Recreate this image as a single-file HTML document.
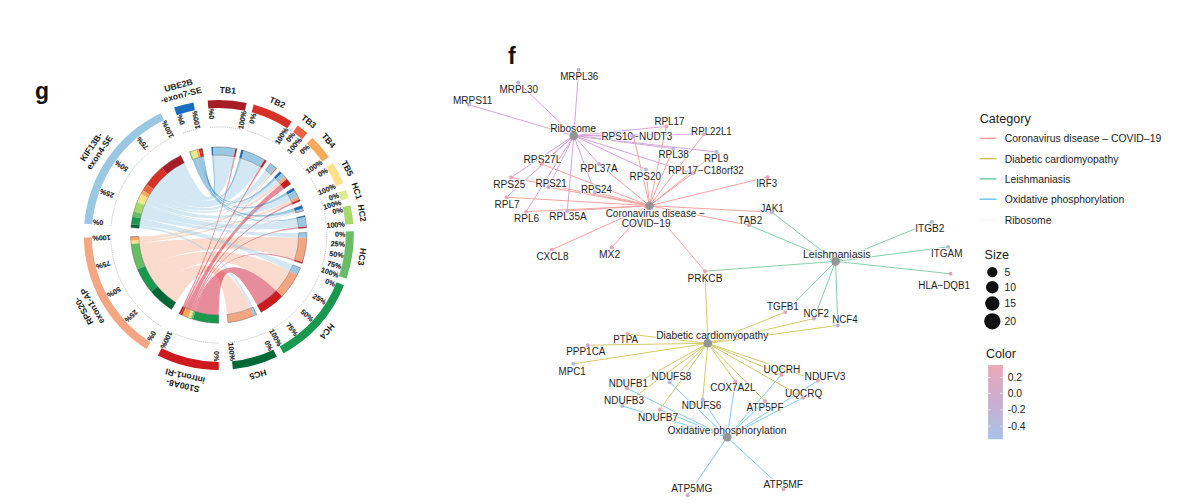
<!DOCTYPE html>
<html><head><meta charset="utf-8"><style>
html,body{margin:0;padding:0;background:#fff;}
svg{display:block;}
text{font-family:"Liberation Sans",sans-serif;}
.tk{font-size:7.2px;font-weight:bold;fill:#222;stroke:#222;stroke-width:0.12px;}
.sl{font-size:8.6px;font-weight:bold;fill:#1a1a1a;}
.nl{font-size:10px;fill:#1e1e1e;stroke:#fff;stroke-width:1.8px;paint-order:stroke;stroke-linejoin:round;}
.lt{font-size:12.6px;fill:#222;}
.ll{font-size:10.4px;fill:#222;}
.nl2{font-size:10px;fill:#222;stroke:#222;stroke-width:0.1px;}
.pl{font-size:23px;font-weight:bold;fill:#111;}
</style></head><body>
<svg width="1187" height="504" viewBox="0 0 1187 504">
<rect width="1187" height="504" fill="#fff"/>
<text x="35" y="98.8" class="pl">g</text>
<text x="508" y="63.5" class="pl">f</text>
<path d="M138.79,237.39A80.0,80.0 0 0 1 138.76,236.54Q218.75,235.0 270.33,173.85A80.0,80.0 0 0 1 270.94,174.36Q218.75,235.0 138.79,237.39Z" fill="#f4a582" fill-opacity="0.4"/>
<path d="M138.92,240.22A80.0,80.0 0 0 1 138.79,237.39Q218.75,235.0 278.68,182.00A80.0,80.0 0 0 1 280.58,184.23Q218.75,235.0 138.92,240.22Z" fill="#f4a582" fill-opacity="0.4"/>
<path d="M139.17,243.18A80.0,80.0 0 0 1 138.92,240.22Q218.75,235.0 290.69,200.01A80.0,80.0 0 0 1 291.94,202.70Q218.75,235.0 139.17,243.18Z" fill="#f4a582" fill-opacity="0.4"/>
<path d="M145.02,266.04A80.0,80.0 0 0 1 139.17,243.18Q218.75,235.0 298.71,237.49A80.0,80.0 0 0 1 294.86,259.63Q218.75,235.0 145.02,266.04Z" fill="#f4a582" fill-opacity="0.4"/>
<path d="M157.54,286.52A80.0,80.0 0 0 1 145.02,266.04Q218.75,235.0 290.06,271.26A80.0,80.0 0 0 1 276.18,290.70Q218.75,235.0 157.54,286.52Z" fill="#f4a582" fill-opacity="0.4"/>
<path d="M175.88,302.55A80.0,80.0 0 0 1 157.54,286.52Q218.75,235.0 250.39,308.48A80.0,80.0 0 0 1 227.11,314.56Q218.75,235.0 175.88,302.55Z" fill="#f4a582" fill-opacity="0.4"/>
<path d="M183.94,307.03A80.0,80.0 0 0 1 182.68,306.41Q218.75,235.0 233.89,156.44A80.0,80.0 0 0 1 235.25,156.72Q218.75,235.0 183.94,307.03Z" fill="#ca0020" fill-opacity="0.45"/>
<path d="M185.59,307.80A80.0,80.0 0 0 1 183.94,307.03Q218.75,235.0 260.40,166.70A80.0,80.0 0 0 1 261.97,167.68Q218.75,235.0 185.59,307.80Z" fill="#ca0020" fill-opacity="0.45"/>
<path d="M185.97,307.98A80.0,80.0 0 0 1 185.59,307.80Q218.75,235.0 270.94,174.36A80.0,80.0 0 0 1 271.23,174.62Q218.75,235.0 185.97,307.98Z" fill="#ca0020" fill-opacity="0.45"/>
<path d="M191.03,310.04A80.0,80.0 0 0 1 185.97,307.98Q218.75,235.0 280.58,184.23A80.0,80.0 0 0 1 284.04,188.77Q218.75,235.0 191.03,310.04Z" fill="#ca0020" fill-opacity="0.45"/>
<path d="M192.61,310.61A80.0,80.0 0 0 1 191.03,310.04Q218.75,235.0 291.94,202.70A80.0,80.0 0 0 1 292.61,204.26Q218.75,235.0 192.61,310.61Z" fill="#ca0020" fill-opacity="0.45"/>
<path d="M192.88,310.70A80.0,80.0 0 0 1 192.61,310.61Q218.75,235.0 295.61,212.81A80.0,80.0 0 0 1 295.69,213.08Q218.75,235.0 192.88,310.70Z" fill="#ca0020" fill-opacity="0.45"/>
<path d="M193.94,311.06A80.0,80.0 0 0 1 192.88,310.70Q218.75,235.0 298.38,227.33A80.0,80.0 0 0 1 298.48,228.44Q218.75,235.0 193.94,311.06Z" fill="#ca0020" fill-opacity="0.45"/>
<path d="M195.28,311.48A80.0,80.0 0 0 1 193.94,311.06Q218.75,235.0 294.86,259.63A80.0,80.0 0 0 1 294.44,260.91Q218.75,235.0 195.28,311.48Z" fill="#ca0020" fill-opacity="0.45"/>
<path d="M218.75,315.00A80.0,80.0 0 0 1 195.28,311.48Q218.75,235.0 276.18,290.70A80.0,80.0 0 0 1 257.17,305.17Q218.75,235.0 218.75,315.00Z" fill="#ca0020" fill-opacity="0.45"/>
<path d="M167.06,173.94A80.0,80.0 0 0 1 184.31,162.79Q218.75,235.0 213.58,155.17A80.0,80.0 0 0 1 233.89,156.44Q218.75,235.0 167.06,173.94Z" fill="#92c5de" fill-opacity="0.4"/>
<path d="M153.30,189.00A80.0,80.0 0 0 1 167.06,173.94Q218.75,235.0 241.51,158.30A80.0,80.0 0 0 1 260.40,166.70Q218.75,235.0 153.30,189.00Z" fill="#92c5de" fill-opacity="0.4"/>
<path d="M149.81,194.41A80.0,80.0 0 0 1 153.30,189.00Q218.75,235.0 265.55,170.11A80.0,80.0 0 0 1 270.33,173.85Q218.75,235.0 149.81,194.41Z" fill="#92c5de" fill-opacity="0.4"/>
<path d="M147.90,197.84A80.0,80.0 0 0 1 149.81,194.41Q218.75,235.0 275.89,179.00A80.0,80.0 0 0 1 278.68,182.00Q218.75,235.0 147.90,197.84Z" fill="#92c5de" fill-opacity="0.4"/>
<path d="M145.25,203.41A80.0,80.0 0 0 1 147.90,197.84Q218.75,235.0 287.76,194.54A80.0,80.0 0 0 1 290.69,200.01Q218.75,235.0 145.25,203.41Z" fill="#92c5de" fill-opacity="0.4"/>
<path d="M144.50,205.22A80.0,80.0 0 0 1 145.25,203.41Q218.75,235.0 295.05,210.94A80.0,80.0 0 0 1 295.61,212.81Q218.75,235.0 144.50,205.22Z" fill="#92c5de" fill-opacity="0.4"/>
<path d="M141.67,213.57A80.0,80.0 0 0 1 144.50,205.22Q218.75,235.0 297.06,218.64A80.0,80.0 0 0 1 298.38,227.33Q218.75,235.0 141.67,213.57Z" fill="#92c5de" fill-opacity="0.4"/>
<path d="M140.51,218.33A80.0,80.0 0 0 1 141.67,213.57Q218.75,235.0 298.72,232.77A80.0,80.0 0 0 1 298.71,237.49Q218.75,235.0 140.51,218.33Z" fill="#92c5de" fill-opacity="0.4"/>
<path d="M139.35,225.24A80.0,80.0 0 0 1 140.51,218.33Q218.75,235.0 292.98,264.84A80.0,80.0 0 0 1 290.06,271.26Q218.75,235.0 139.35,225.24Z" fill="#92c5de" fill-opacity="0.4"/>
<path d="M139.03,228.31A80.0,80.0 0 0 1 139.35,225.24Q218.75,235.0 253.19,307.21A80.0,80.0 0 0 1 250.39,308.48Q218.75,235.0 139.03,228.31Z" fill="#92c5de" fill-opacity="0.4"/>
<path d="M202.44,156.68A80.0,80.0 0 0 1 203.76,156.42Q218.75,235.0 212.19,155.27A80.0,80.0 0 0 1 213.58,155.17Q218.75,235.0 202.44,156.68Z" fill="#0571b0" fill-opacity="0.4"/>
<path d="M200.46,157.12A80.0,80.0 0 0 1 202.44,156.68Q218.75,235.0 239.46,157.73A80.0,80.0 0 0 1 241.51,158.30Q218.75,235.0 200.46,157.12Z" fill="#0571b0" fill-opacity="0.4"/>
<path d="M198.37,157.64A80.0,80.0 0 0 1 200.46,157.12Q218.75,235.0 274.22,177.36A80.0,80.0 0 0 1 275.89,179.00Q218.75,235.0 198.37,157.64Z" fill="#0571b0" fill-opacity="0.4"/>
<path d="M196.03,158.29A80.0,80.0 0 0 1 198.37,157.64Q218.75,235.0 286.45,192.37A80.0,80.0 0 0 1 287.76,194.54Q218.75,235.0 196.03,158.29Z" fill="#0571b0" fill-opacity="0.4"/>
<path d="M193.46,159.10A80.0,80.0 0 0 1 196.03,158.29Q218.75,235.0 294.16,208.30A80.0,80.0 0 0 1 295.05,210.94Q218.75,235.0 193.46,159.10Z" fill="#0571b0" fill-opacity="0.4"/>
<path d="M192.31,159.50A80.0,80.0 0 0 1 193.46,159.10Q218.75,235.0 296.79,217.41A80.0,80.0 0 0 1 297.06,218.64Q218.75,235.0 192.31,159.50Z" fill="#0571b0" fill-opacity="0.4"/>
<path d="M200.76,148.65A88.2,88.2 0 0 1 202.22,148.36L203.76,156.42A80.0,80.0 0 0 0 202.44,156.68Z" fill="#a81c26"/>
<path d="M211.52,147.10A88.2,88.2 0 0 1 213.05,146.98L213.58,155.17A80.0,80.0 0 0 0 212.19,155.27Z" fill="#1a6dbd"/>
<path d="M161.76,167.68A88.2,88.2 0 0 1 180.78,155.39L184.31,162.79A80.0,80.0 0 0 0 167.06,173.94Z" fill="#a81c26"/>
<path d="M213.05,146.98A88.2,88.2 0 0 1 235.44,148.39L233.89,156.44A80.0,80.0 0 0 0 213.58,155.17Z" fill="#9ac8e2"/>
<path d="M180.37,314.41A88.2,88.2 0 0 1 178.98,313.73L182.68,306.41A80.0,80.0 0 0 0 183.94,307.03Z" fill="#a81c26"/>
<path d="M235.44,148.39A88.2,88.2 0 0 1 236.94,148.70L235.25,156.72A80.0,80.0 0 0 0 233.89,156.44Z" fill="#cc1a1f"/>
<path d="M198.59,149.14A88.2,88.2 0 0 1 200.76,148.65L202.44,156.68A80.0,80.0 0 0 0 200.46,157.12Z" fill="#d73027"/>
<path d="M241.58,149.81A88.2,88.2 0 0 1 243.84,150.44L241.51,158.30A80.0,80.0 0 0 0 239.46,157.73Z" fill="#1a6dbd"/>
<path d="M146.59,184.28A88.2,88.2 0 0 1 161.76,167.68L167.06,173.94A80.0,80.0 0 0 0 153.30,189.00Z" fill="#d73027"/>
<path d="M243.84,150.44A88.2,88.2 0 0 1 264.67,159.70L260.40,166.70A80.0,80.0 0 0 0 241.51,158.30Z" fill="#9ac8e2"/>
<path d="M182.19,315.26A88.2,88.2 0 0 1 180.37,314.41L183.94,307.03A80.0,80.0 0 0 0 185.59,307.80Z" fill="#d73027"/>
<path d="M264.67,159.70A88.2,88.2 0 0 1 266.40,160.78L261.97,167.68A80.0,80.0 0 0 0 260.40,166.70Z" fill="#cc1a1f"/>
<path d="M142.74,190.25A88.2,88.2 0 0 1 146.59,184.28L153.30,189.00A80.0,80.0 0 0 0 149.81,194.41Z" fill="#ef6240"/>
<path d="M270.34,163.46A88.2,88.2 0 0 1 275.62,167.58L270.33,173.85A80.0,80.0 0 0 0 265.55,170.11Z" fill="#9ac8e2"/>
<path d="M130.59,237.63A88.2,88.2 0 0 1 130.57,236.69L138.76,236.54A80.0,80.0 0 0 0 138.79,237.39Z" fill="#ef6240"/>
<path d="M275.62,167.58A88.2,88.2 0 0 1 276.28,168.15L270.94,174.36A80.0,80.0 0 0 0 270.33,173.85Z" fill="#f4a582"/>
<path d="M182.61,315.46A88.2,88.2 0 0 1 182.19,315.26L185.59,307.80A80.0,80.0 0 0 0 185.97,307.98Z" fill="#ef6240"/>
<path d="M276.28,168.15A88.2,88.2 0 0 1 276.61,168.43L271.23,174.62A80.0,80.0 0 0 0 270.94,174.36Z" fill="#cc1a1f"/>
<path d="M196.28,149.71A88.2,88.2 0 0 1 198.59,149.14L200.46,157.12A80.0,80.0 0 0 0 198.37,157.64Z" fill="#f7aa5a"/>
<path d="M279.91,171.45A88.2,88.2 0 0 1 281.74,173.27L275.89,179.00A80.0,80.0 0 0 0 274.22,177.36Z" fill="#1a6dbd"/>
<path d="M140.64,194.03A88.2,88.2 0 0 1 142.74,190.25L149.81,194.41A80.0,80.0 0 0 0 147.90,197.84Z" fill="#f7aa5a"/>
<path d="M281.74,173.27A88.2,88.2 0 0 1 284.82,176.57L278.68,182.00A80.0,80.0 0 0 0 275.89,179.00Z" fill="#9ac8e2"/>
<path d="M130.74,240.75A88.2,88.2 0 0 1 130.59,237.63L138.79,237.39A80.0,80.0 0 0 0 138.92,240.22Z" fill="#f7aa5a"/>
<path d="M284.82,176.57A88.2,88.2 0 0 1 286.92,179.03L280.58,184.23A80.0,80.0 0 0 0 278.68,182.00Z" fill="#f4a582"/>
<path d="M188.19,317.73A88.2,88.2 0 0 1 182.61,315.46L185.97,307.98A80.0,80.0 0 0 0 191.03,310.04Z" fill="#f7aa5a"/>
<path d="M286.92,179.03A88.2,88.2 0 0 1 290.73,184.03L284.04,188.77A80.0,80.0 0 0 0 280.58,184.23Z" fill="#cc1a1f"/>
<path d="M193.70,150.43A88.2,88.2 0 0 1 196.28,149.71L198.37,157.64A80.0,80.0 0 0 0 196.03,158.29Z" fill="#fee08b"/>
<path d="M293.38,188.00A88.2,88.2 0 0 1 294.84,190.39L287.76,194.54A80.0,80.0 0 0 0 286.45,192.37Z" fill="#1a6dbd"/>
<path d="M137.72,200.17A88.2,88.2 0 0 1 140.64,194.03L147.90,197.84A80.0,80.0 0 0 0 145.25,203.41Z" fill="#fee08b"/>
<path d="M294.84,190.39A88.2,88.2 0 0 1 298.07,196.43L290.69,200.01A80.0,80.0 0 0 0 287.76,194.54Z" fill="#9ac8e2"/>
<path d="M131.01,244.02A88.2,88.2 0 0 1 130.74,240.75L138.92,240.22A80.0,80.0 0 0 0 139.17,243.18Z" fill="#fee08b"/>
<path d="M298.07,196.43A88.2,88.2 0 0 1 299.44,199.39L291.94,202.70A80.0,80.0 0 0 0 290.69,200.01Z" fill="#f4a582"/>
<path d="M189.93,318.36A88.2,88.2 0 0 1 188.19,317.73L191.03,310.04A80.0,80.0 0 0 0 192.61,310.61Z" fill="#fee08b"/>
<path d="M299.44,199.39A88.2,88.2 0 0 1 300.18,201.11L292.61,204.26A80.0,80.0 0 0 0 291.94,202.70Z" fill="#cc1a1f"/>
<path d="M190.86,151.32A88.2,88.2 0 0 1 193.70,150.43L196.03,158.29A80.0,80.0 0 0 0 193.46,159.10Z" fill="#d9ef8b"/>
<path d="M301.89,205.56A88.2,88.2 0 0 1 302.87,208.48L295.05,210.94A80.0,80.0 0 0 0 294.16,208.30Z" fill="#1a6dbd"/>
<path d="M136.89,202.16A88.2,88.2 0 0 1 137.72,200.17L145.25,203.41A80.0,80.0 0 0 0 144.50,205.22Z" fill="#d9ef8b"/>
<path d="M302.87,208.48A88.2,88.2 0 0 1 303.49,210.54L295.61,212.81A80.0,80.0 0 0 0 295.05,210.94Z" fill="#9ac8e2"/>
<path d="M190.22,318.46A88.2,88.2 0 0 1 189.93,318.36L192.61,310.61A80.0,80.0 0 0 0 192.88,310.70Z" fill="#d9ef8b"/>
<path d="M303.49,210.54A88.2,88.2 0 0 1 303.58,210.84L295.69,213.08A80.0,80.0 0 0 0 295.61,212.81Z" fill="#cc1a1f"/>
<path d="M189.60,151.76A88.2,88.2 0 0 1 190.86,151.32L193.46,159.10A80.0,80.0 0 0 0 192.31,159.50Z" fill="#a6d96a"/>
<path d="M304.79,215.61A88.2,88.2 0 0 1 305.09,216.96L297.06,218.64A80.0,80.0 0 0 0 296.79,217.41Z" fill="#1a6dbd"/>
<path d="M133.77,211.38A88.2,88.2 0 0 1 136.89,202.16L144.50,205.22A80.0,80.0 0 0 0 141.67,213.57Z" fill="#a6d96a"/>
<path d="M305.09,216.96A88.2,88.2 0 0 1 306.54,226.55L298.38,227.33A80.0,80.0 0 0 0 297.06,218.64Z" fill="#9ac8e2"/>
<path d="M191.40,318.85A88.2,88.2 0 0 1 190.22,318.46L192.88,310.70A80.0,80.0 0 0 0 193.94,311.06Z" fill="#a6d96a"/>
<path d="M306.54,226.55A88.2,88.2 0 0 1 306.65,227.77L298.48,228.44A80.0,80.0 0 0 0 298.38,227.33Z" fill="#cc1a1f"/>
<path d="M132.49,216.63A88.2,88.2 0 0 1 133.77,211.38L141.67,213.57A80.0,80.0 0 0 0 140.51,218.33Z" fill="#66bd63"/>
<path d="M306.92,232.54A88.2,88.2 0 0 1 306.91,237.75L298.71,237.49A80.0,80.0 0 0 0 298.72,232.77Z" fill="#9ac8e2"/>
<path d="M137.46,269.22A88.2,88.2 0 0 1 131.01,244.02L139.17,243.18A80.0,80.0 0 0 0 145.02,266.04Z" fill="#66bd63"/>
<path d="M306.91,237.75A88.2,88.2 0 0 1 302.66,262.16L294.86,259.63A80.0,80.0 0 0 0 298.71,237.49Z" fill="#f4a582"/>
<path d="M192.87,319.32A88.2,88.2 0 0 1 191.40,318.85L193.94,311.06A80.0,80.0 0 0 0 195.28,311.48Z" fill="#66bd63"/>
<path d="M302.66,262.16A88.2,88.2 0 0 1 302.19,263.57L294.44,260.91A80.0,80.0 0 0 0 294.86,259.63Z" fill="#cc1a1f"/>
<path d="M131.21,224.24A88.2,88.2 0 0 1 132.49,216.63L140.51,218.33A80.0,80.0 0 0 0 139.35,225.24Z" fill="#1a9850"/>
<path d="M300.59,267.90A88.2,88.2 0 0 1 297.37,274.98L290.06,271.26A80.0,80.0 0 0 0 292.98,264.84Z" fill="#9ac8e2"/>
<path d="M151.27,291.80A88.2,88.2 0 0 1 137.46,269.22L145.02,266.04A80.0,80.0 0 0 0 157.54,286.52Z" fill="#1a9850"/>
<path d="M297.37,274.98A88.2,88.2 0 0 1 282.06,296.41L276.18,290.70A80.0,80.0 0 0 0 290.06,271.26Z" fill="#f4a582"/>
<path d="M218.75,323.20A88.2,88.2 0 0 1 192.87,319.32L195.28,311.48A80.0,80.0 0 0 0 218.75,315.00Z" fill="#1a9850"/>
<path d="M282.06,296.41A88.2,88.2 0 0 1 261.11,312.36L257.17,305.17A80.0,80.0 0 0 0 276.18,290.70Z" fill="#cc1a1f"/>
<path d="M130.86,227.62A88.2,88.2 0 0 1 131.21,224.24L139.35,225.24A80.0,80.0 0 0 0 139.03,228.31Z" fill="#006837"/>
<path d="M256.72,314.61A88.2,88.2 0 0 1 253.63,316.01L250.39,308.48A80.0,80.0 0 0 0 253.19,307.21Z" fill="#9ac8e2"/>
<path d="M171.49,309.47A88.2,88.2 0 0 1 151.27,291.80L157.54,286.52A80.0,80.0 0 0 0 175.88,302.55Z" fill="#006837"/>
<path d="M253.63,316.01A88.2,88.2 0 0 1 227.97,322.72L227.11,314.56A80.0,80.0 0 0 0 250.39,308.48Z" fill="#f4a582"/>
<path d="M189.60,151.76A88.2,88.2 0 0 1 202.22,148.36L203.76,156.42A80.0,80.0 0 0 0 192.31,159.50Z" fill="none" stroke="#555" stroke-width="0.5" stroke-opacity="0.8"/>
<path d="M211.52,147.10A88.2,88.2 0 0 1 236.94,148.70L235.25,156.72A80.0,80.0 0 0 0 212.19,155.27Z" fill="none" stroke="#555" stroke-width="0.5" stroke-opacity="0.8"/>
<path d="M241.58,149.81A88.2,88.2 0 0 1 266.40,160.78L261.97,167.68A80.0,80.0 0 0 0 239.46,157.73Z" fill="none" stroke="#555" stroke-width="0.5" stroke-opacity="0.8"/>
<path d="M270.34,163.46A88.2,88.2 0 0 1 276.61,168.43L271.23,174.62A80.0,80.0 0 0 0 265.55,170.11Z" fill="none" stroke="#555" stroke-width="0.5" stroke-opacity="0.8"/>
<path d="M279.91,171.45A88.2,88.2 0 0 1 290.73,184.03L284.04,188.77A80.0,80.0 0 0 0 274.22,177.36Z" fill="none" stroke="#555" stroke-width="0.5" stroke-opacity="0.8"/>
<path d="M293.38,188.00A88.2,88.2 0 0 1 300.18,201.11L292.61,204.26A80.0,80.0 0 0 0 286.45,192.37Z" fill="none" stroke="#555" stroke-width="0.5" stroke-opacity="0.8"/>
<path d="M301.89,205.56A88.2,88.2 0 0 1 303.58,210.84L295.69,213.08A80.0,80.0 0 0 0 294.16,208.30Z" fill="none" stroke="#555" stroke-width="0.5" stroke-opacity="0.8"/>
<path d="M304.79,215.61A88.2,88.2 0 0 1 306.65,227.77L298.48,228.44A80.0,80.0 0 0 0 296.79,217.41Z" fill="none" stroke="#555" stroke-width="0.5" stroke-opacity="0.8"/>
<path d="M306.92,232.54A88.2,88.2 0 0 1 302.19,263.57L294.44,260.91A80.0,80.0 0 0 0 298.72,232.77Z" fill="none" stroke="#555" stroke-width="0.5" stroke-opacity="0.8"/>
<path d="M300.59,267.90A88.2,88.2 0 0 1 261.11,312.36L257.17,305.17A80.0,80.0 0 0 0 292.98,264.84Z" fill="none" stroke="#555" stroke-width="0.5" stroke-opacity="0.8"/>
<path d="M256.72,314.61A88.2,88.2 0 0 1 227.97,322.72L227.11,314.56A80.0,80.0 0 0 0 253.19,307.21Z" fill="none" stroke="#555" stroke-width="0.5" stroke-opacity="0.8"/>
<path d="M218.75,323.20A88.2,88.2 0 0 1 178.98,313.73L182.68,306.41A80.0,80.0 0 0 0 218.75,315.00Z" fill="none" stroke="#555" stroke-width="0.5" stroke-opacity="0.8"/>
<path d="M171.49,309.47A88.2,88.2 0 0 1 130.57,236.69L138.76,236.54A80.0,80.0 0 0 0 175.88,302.55Z" fill="none" stroke="#555" stroke-width="0.5" stroke-opacity="0.8"/>
<path d="M130.86,227.62A88.2,88.2 0 0 1 180.78,155.39L184.31,162.79A80.0,80.0 0 0 0 139.03,228.31Z" fill="none" stroke="#555" stroke-width="0.5" stroke-opacity="0.8"/>
<path d="M174.13,107.59A135.0,135.0 0 0 1 193.45,102.39L194.95,110.25A127.0,127.0 0 0 0 176.77,115.14Z" fill="#1a6dbd"/>
<path d="M183.05,133.07A108.0,108.0 0 0 1 198.51,128.91" fill="none" stroke="#999" stroke-width="0.55" stroke-dasharray="1.2,0.9"/>
<text transform="translate(176.94,115.61) rotate(-109.30) translate(0,2.5)" text-anchor="end" dominant-baseline="central" class="tk">0%</text>
<text transform="translate(195.05,110.74) rotate(-100.80) translate(0,-0.6)" text-anchor="end" dominant-baseline="central" class="tk">100%</text>
<text transform="translate(178.50,85.32) rotate(-15.05)" text-anchor="middle" dominant-baseline="central" class="sl">UBE2B</text>
<text transform="translate(181.10,94.97) rotate(-15.05)" text-anchor="middle" dominant-baseline="central" class="sl">-exon7-SE</text>
<path d="M207.69,100.45A135.0,135.0 0 0 1 246.59,102.90L244.94,110.73A127.0,127.0 0 0 0 208.34,108.43Z" fill="#a81c26"/>
<path d="M209.90,127.36A108.0,108.0 0 0 1 241.02,129.32" fill="none" stroke="#999" stroke-width="0.55" stroke-dasharray="1.2,0.9"/>
<text transform="translate(208.38,108.93) rotate(-94.70) translate(0,2.5)" text-anchor="end" dominant-baseline="central" class="tk">0%</text>
<text transform="translate(244.83,111.22) rotate(-78.10) translate(0,-0.6)" text-anchor="end" dominant-baseline="central" class="tk">100%</text>
<text transform="translate(227.85,90.29) rotate(3.60)" text-anchor="middle" dominant-baseline="central" class="sl">TB1</text>
<path d="M253.69,104.60A135.0,135.0 0 0 1 291.68,121.40L287.36,128.13A127.0,127.0 0 0 0 251.62,112.33Z" fill="#d73027"/>
<path d="M246.70,130.68A108.0,108.0 0 0 1 277.10,144.12" fill="none" stroke="#999" stroke-width="0.55" stroke-dasharray="1.2,0.9"/>
<text transform="translate(251.49,112.81) rotate(-75.00) translate(0,2.5)" text-anchor="end" dominant-baseline="central" class="tk">0%</text>
<text transform="translate(287.09,128.55) rotate(-57.30) translate(0,-0.6)" text-anchor="end" dominant-baseline="central" class="tk">100%</text>
<text transform="translate(277.38,102.38) rotate(23.85)" text-anchor="middle" dominant-baseline="central" class="sl">TB2</text>
<path d="M297.72,125.51A135.0,135.0 0 0 1 307.32,133.11L302.07,139.15A127.0,127.0 0 0 0 293.04,131.99Z" fill="#ef6240"/>
<path d="M281.93,147.41A108.0,108.0 0 0 1 289.60,153.49" fill="none" stroke="#999" stroke-width="0.55" stroke-dasharray="1.2,0.9"/>
<text transform="translate(292.75,132.40) rotate(-54.20) translate(0,1.0)" text-anchor="end" dominant-baseline="central" class="tk">0%</text>
<text transform="translate(301.74,139.53) rotate(-49.00) translate(0,-1.6)" text-anchor="end" dominant-baseline="central" class="tk">100%</text>
<text transform="translate(308.82,121.36) rotate(38.40)" text-anchor="middle" dominant-baseline="central" class="sl">TB3</text>
<path d="M312.36,137.73A135.0,135.0 0 0 1 328.93,156.99L322.40,161.61A127.0,127.0 0 0 0 306.81,143.49Z" fill="#f7aa5a"/>
<path d="M293.64,157.18A108.0,108.0 0 0 1 306.89,172.59" fill="none" stroke="#999" stroke-width="0.55" stroke-dasharray="1.2,0.9"/>
<text transform="translate(306.47,143.85) rotate(-46.10) translate(0,2.5)" text-anchor="end" dominant-baseline="central" class="tk">0%</text>
<text transform="translate(321.99,161.90) rotate(-35.30) translate(0,-0.6)" text-anchor="end" dominant-baseline="central" class="tk">100%</text>
<text transform="translate(328.68,140.45) rotate(49.30)" text-anchor="middle" dominant-baseline="central" class="sl">TB4</text>
<path d="M332.99,163.06A135.0,135.0 0 0 1 343.38,183.12L336.00,186.19A127.0,127.0 0 0 0 326.22,167.32Z" fill="#fee08b"/>
<path d="M310.14,177.45A108.0,108.0 0 0 1 318.46,193.50" fill="none" stroke="#999" stroke-width="0.55" stroke-dasharray="1.2,0.9"/>
<text transform="translate(325.79,167.59) rotate(-32.20) translate(0,2.5)" text-anchor="end" dominant-baseline="central" class="tk">0%</text>
<text transform="translate(335.54,186.39) rotate(-22.60) translate(0,-0.6)" text-anchor="end" dominant-baseline="central" class="tk">100%</text>
<text transform="translate(347.48,168.27) rotate(62.60)" text-anchor="middle" dominant-baseline="central" class="sl">TB5</text>
<path d="M346.01,189.94A135.0,135.0 0 0 1 348.59,198.02L340.89,200.21A127.0,127.0 0 0 0 338.47,192.61Z" fill="#d9ef8b"/>
<path d="M320.56,198.95A108.0,108.0 0 0 1 322.62,205.41" fill="none" stroke="#999" stroke-width="0.55" stroke-dasharray="1.2,0.9"/>
<text transform="translate(337.99,192.77) rotate(-19.50) translate(0,2.4)" text-anchor="end" dominant-baseline="central" class="tk">0%</text>
<text transform="translate(340.41,200.34) rotate(-15.90) translate(0,2.0)" text-anchor="end" dominant-baseline="central" class="tk">100%</text>
<text transform="translate(356.89,190.92) rotate(72.30)" text-anchor="middle" dominant-baseline="central" class="sl">HC1</text>
<path d="M350.45,205.32A135.0,135.0 0 0 1 353.30,223.94L345.32,224.59A127.0,127.0 0 0 0 342.64,207.08Z" fill="#a6d96a"/>
<path d="M324.11,211.26A108.0,108.0 0 0 1 326.39,226.15" fill="none" stroke="#999" stroke-width="0.55" stroke-dasharray="1.2,0.9"/>
<text transform="translate(342.16,207.19) rotate(-12.70) translate(0,2.5)" text-anchor="end" dominant-baseline="central" class="tk">0%</text>
<text transform="translate(344.82,224.63) rotate(-4.70) translate(0,-0.6)" text-anchor="end" dominant-baseline="central" class="tk">100%</text>
<text transform="translate(362.08,213.07) rotate(81.30)" text-anchor="middle" dominant-baseline="central" class="sl">HC2</text>
<path d="M353.70,231.23A135.0,135.0 0 0 1 346.47,278.73L338.90,276.14A127.0,127.0 0 0 0 345.70,231.45Z" fill="#66bd63"/>
<path d="M326.71,231.98A108.0,108.0 0 0 1 320.93,269.98" fill="none" stroke="#999" stroke-width="0.55" stroke-dasharray="1.2,0.9"/>
<text transform="translate(345.20,231.47) rotate(-1.60) translate(0,2.5)" text-anchor="end" dominant-baseline="central" class="tk">0%</text>
<text transform="translate(345.01,242.78) rotate(3.53) translate(0,1.5)" text-anchor="end" dominant-baseline="central" class="tk">25%</text>
<text transform="translate(343.81,254.03) rotate(8.65) translate(0,1.5)" text-anchor="end" dominant-baseline="central" class="tk">50%</text>
<text transform="translate(341.61,265.12) rotate(13.78) translate(0,1.5)" text-anchor="end" dominant-baseline="central" class="tk">75%</text>
<text transform="translate(338.43,275.98) rotate(18.90) translate(0,-0.6)" text-anchor="end" dominant-baseline="central" class="tk">100%</text>
<text transform="translate(362.10,256.81) rotate(98.65)" text-anchor="middle" dominant-baseline="central" class="sl">HC3</text>
<path d="M344.01,285.35A135.0,135.0 0 0 1 283.58,353.41L279.74,346.40A127.0,127.0 0 0 0 336.59,282.37Z" fill="#1a9850"/>
<path d="M318.96,275.28A108.0,108.0 0 0 1 270.61,329.73" fill="none" stroke="#999" stroke-width="0.55" stroke-dasharray="1.2,0.9"/>
<text transform="translate(336.12,282.18) rotate(21.90) translate(0,2.5)" text-anchor="end" dominant-baseline="central" class="tk">0%</text>
<text transform="translate(326.32,301.57) rotate(31.75) translate(0,1.5)" text-anchor="end" dominant-baseline="central" class="tk">25%</text>
<text transform="translate(313.35,318.99) rotate(41.60) translate(0,1.5)" text-anchor="end" dominant-baseline="central" class="tk">50%</text>
<text transform="translate(297.58,333.93) rotate(51.45) translate(0,1.5)" text-anchor="end" dominant-baseline="central" class="tk">75%</text>
<text transform="translate(279.50,345.96) rotate(61.30) translate(0,-0.6)" text-anchor="end" dominant-baseline="central" class="tk">100%</text>
<text transform="translate(327.18,331.27) rotate(131.60)" text-anchor="middle" dominant-baseline="central" class="sl">HC4</text>
<path d="M276.87,356.85A135.0,135.0 0 0 1 232.86,369.26L232.03,361.30A127.0,127.0 0 0 0 273.42,349.63Z" fill="#006837"/>
<path d="M265.25,332.48A108.0,108.0 0 0 1 230.04,342.41" fill="none" stroke="#999" stroke-width="0.55" stroke-dasharray="1.2,0.9"/>
<text transform="translate(273.21,349.18) rotate(64.50) translate(0,2.5)" text-anchor="end" dominant-baseline="central" class="tk">0%</text>
<text transform="translate(231.97,360.81) rotate(84.00) translate(0,-0.6)" text-anchor="end" dominant-baseline="central" class="tk">100%</text>
<text transform="translate(258.11,374.56) rotate(164.25)" text-anchor="middle" dominant-baseline="central" class="sl">HC5</text>
<path d="M218.75,370.00A135.0,135.0 0 0 1 157.88,355.50L161.49,348.36A127.0,127.0 0 0 0 218.75,362.00Z" fill="#cc1a1f"/>
<path d="M218.75,343.00A108.0,108.0 0 0 1 170.06,331.40" fill="none" stroke="#999" stroke-width="0.55" stroke-dasharray="1.2,0.9"/>
<text transform="translate(218.75,361.50) rotate(90.00) translate(0,2.5)" text-anchor="end" dominant-baseline="central" class="tk">0%</text>
<text transform="translate(161.71,347.91) rotate(116.80) translate(0,-0.6)" text-anchor="end" dominant-baseline="central" class="tk">100%</text>
<text transform="translate(182.83,385.78) rotate(193.40)" text-anchor="middle" dominant-baseline="central" class="sl">S100A8-</text>
<text transform="translate(185.15,376.05) rotate(193.40)" text-anchor="middle" dominant-baseline="central" class="sl">intron1-RI</text>
<path d="M146.41,348.98A135.0,135.0 0 0 1 83.77,237.59L91.77,237.44A127.0,127.0 0 0 0 150.70,342.23Z" fill="#f4a582"/>
<path d="M160.88,326.19A108.0,108.0 0 0 1 110.77,237.07" fill="none" stroke="#999" stroke-width="0.55" stroke-dasharray="1.2,0.9"/>
<text transform="translate(150.97,341.81) rotate(122.40) translate(0,2.5)" text-anchor="end" dominant-baseline="central" class="tk">0%</text>
<text transform="translate(126.95,322.04) rotate(136.53) translate(0,1.5)" text-anchor="end" dominant-baseline="central" class="tk">25%</text>
<text transform="translate(108.49,297.00) rotate(150.65) translate(0,1.5)" text-anchor="end" dominant-baseline="central" class="tk">50%</text>
<text transform="translate(96.69,268.22) rotate(164.77) translate(0,1.5)" text-anchor="end" dominant-baseline="central" class="tk">75%</text>
<text transform="translate(92.27,237.43) rotate(178.90) translate(0,-0.6)" text-anchor="end" dominant-baseline="central" class="tk">100%</text>
<text transform="translate(83.65,310.97) rotate(240.65)" text-anchor="middle" dominant-baseline="central" class="sl">RPS20-</text>
<text transform="translate(92.36,306.07) rotate(240.65)" text-anchor="middle" dominant-baseline="central" class="sl">exon1-AP</text>
<path d="M84.22,223.70A135.0,135.0 0 0 1 160.63,113.15L164.08,120.37A127.0,127.0 0 0 0 92.20,224.37Z" fill="#9ac8e2"/>
<path d="M111.13,225.96A108.0,108.0 0 0 1 172.25,137.52" fill="none" stroke="#999" stroke-width="0.55" stroke-dasharray="1.2,0.9"/>
<text transform="translate(92.69,224.41) rotate(184.80) translate(0,2.5)" text-anchor="end" dominant-baseline="central" class="tk">0%</text>
<text transform="translate(99.67,192.31) rotate(199.73) translate(0,1.5)" text-anchor="end" dominant-baseline="central" class="tk">25%</text>
<text transform="translate(114.69,163.08) rotate(214.65) translate(0,1.5)" text-anchor="end" dominant-baseline="central" class="tk">50%</text>
<text transform="translate(136.72,138.70) rotate(229.57) translate(0,1.5)" text-anchor="end" dominant-baseline="central" class="tk">75%</text>
<text transform="translate(164.29,120.82) rotate(244.50) translate(0,-0.6)" text-anchor="end" dominant-baseline="central" class="tk">100%</text>
<text transform="translate(91.24,146.87) rotate(304.65)" text-anchor="middle" dominant-baseline="central" class="sl">KIF13B-</text>
<text transform="translate(99.47,152.56) rotate(304.65)" text-anchor="middle" dominant-baseline="central" class="sl">exon4-SE</text>
<line x1="727.2" y1="437.2" x2="627" y2="388.4" stroke="#7ccbf0" stroke-width="1.0"/>
<line x1="727.2" y1="437.2" x2="669.7" y2="382.2" stroke="#7ccbf0" stroke-width="1.0"/>
<line x1="727.2" y1="437.2" x2="622.2" y2="406" stroke="#7ccbf0" stroke-width="1.0"/>
<line x1="727.2" y1="437.2" x2="659.8" y2="409.7" stroke="#7ccbf0" stroke-width="1.0"/>
<line x1="727.2" y1="437.2" x2="702.7" y2="399.4" stroke="#7ccbf0" stroke-width="1.0"/>
<line x1="727.2" y1="437.2" x2="735.3" y2="381.5" stroke="#7ccbf0" stroke-width="1.0"/>
<line x1="727.2" y1="437.2" x2="781.4" y2="374.7" stroke="#7ccbf0" stroke-width="1.0"/>
<line x1="727.2" y1="437.2" x2="818" y2="380.7" stroke="#7ccbf0" stroke-width="1.0"/>
<line x1="727.2" y1="437.2" x2="803.1" y2="397.6" stroke="#7ccbf0" stroke-width="1.0"/>
<line x1="727.2" y1="437.2" x2="765" y2="401.2" stroke="#7ccbf0" stroke-width="1.0"/>
<line x1="727.2" y1="437.2" x2="687.6" y2="495.3" stroke="#7ccbf0" stroke-width="1.0"/>
<line x1="727.2" y1="437.2" x2="783.5" y2="489.3" stroke="#7ccbf0" stroke-width="1.0"/>
<line x1="707.8" y1="343.3" x2="705" y2="271.2" stroke="#d3ca66" stroke-width="1.0"/>
<line x1="707.8" y1="343.3" x2="785.2" y2="312.1" stroke="#d3ca66" stroke-width="1.0"/>
<line x1="707.8" y1="343.3" x2="814" y2="318.5" stroke="#d3ca66" stroke-width="1.0"/>
<line x1="707.8" y1="343.3" x2="837.8" y2="325.4" stroke="#d3ca66" stroke-width="1.0"/>
<line x1="707.8" y1="343.3" x2="627.6" y2="334" stroke="#d3ca66" stroke-width="1.0"/>
<line x1="707.8" y1="343.3" x2="587.6" y2="345.2" stroke="#d3ca66" stroke-width="1.0"/>
<line x1="707.8" y1="343.3" x2="573.3" y2="363.8" stroke="#d3ca66" stroke-width="1.0"/>
<line x1="707.8" y1="343.3" x2="627" y2="388.4" stroke="#d3ca66" stroke-width="1.0"/>
<line x1="707.8" y1="343.3" x2="669.7" y2="382.2" stroke="#d3ca66" stroke-width="1.0"/>
<line x1="707.8" y1="343.3" x2="622.2" y2="406" stroke="#d3ca66" stroke-width="1.0"/>
<line x1="707.8" y1="343.3" x2="659.8" y2="409.7" stroke="#d3ca66" stroke-width="1.0"/>
<line x1="707.8" y1="343.3" x2="702.7" y2="399.4" stroke="#d3ca66" stroke-width="1.0"/>
<line x1="707.8" y1="343.3" x2="735.3" y2="381.5" stroke="#d3ca66" stroke-width="1.0"/>
<line x1="707.8" y1="343.3" x2="781.4" y2="374.7" stroke="#d3ca66" stroke-width="1.0"/>
<line x1="707.8" y1="343.3" x2="818" y2="380.7" stroke="#d3ca66" stroke-width="1.0"/>
<line x1="707.8" y1="343.3" x2="803.1" y2="397.6" stroke="#d3ca66" stroke-width="1.0"/>
<line x1="707.8" y1="343.3" x2="765" y2="401.2" stroke="#d3ca66" stroke-width="1.0"/>
<line x1="835.6" y1="261.4" x2="771.8" y2="212.2" stroke="#86cfa9" stroke-width="1.0"/>
<line x1="835.6" y1="261.4" x2="749" y2="225.2" stroke="#86cfa9" stroke-width="1.0"/>
<line x1="835.6" y1="261.4" x2="931.9" y2="221.9" stroke="#86cfa9" stroke-width="1.0"/>
<line x1="835.6" y1="261.4" x2="948.1" y2="246.9" stroke="#86cfa9" stroke-width="1.0"/>
<line x1="835.6" y1="261.4" x2="950.5" y2="273.8" stroke="#86cfa9" stroke-width="1.0"/>
<line x1="835.6" y1="261.4" x2="705" y2="271.2" stroke="#86cfa9" stroke-width="1.0"/>
<line x1="835.6" y1="261.4" x2="785.2" y2="312.1" stroke="#86cfa9" stroke-width="1.0"/>
<line x1="835.6" y1="261.4" x2="814" y2="318.5" stroke="#86cfa9" stroke-width="1.0"/>
<line x1="835.6" y1="261.4" x2="837.8" y2="325.4" stroke="#86cfa9" stroke-width="1.0"/>
<line x1="573.8" y1="135.7" x2="578.6" y2="69.8" stroke="#d9a3dc" stroke-width="1.0"/>
<line x1="573.8" y1="135.7" x2="518.1" y2="82.4" stroke="#d9a3dc" stroke-width="1.0"/>
<line x1="573.8" y1="135.7" x2="469" y2="104.8" stroke="#d9a3dc" stroke-width="1.0"/>
<line x1="573.8" y1="135.7" x2="666.3" y2="126.4" stroke="#d9a3dc" stroke-width="1.0"/>
<line x1="573.8" y1="135.7" x2="633.6" y2="136.3" stroke="#d9a3dc" stroke-width="1.0"/>
<line x1="573.8" y1="135.7" x2="704" y2="134.1" stroke="#d9a3dc" stroke-width="1.0"/>
<line x1="573.8" y1="135.7" x2="673.25" y2="148.6" stroke="#d9a3dc" stroke-width="1.0"/>
<line x1="573.8" y1="135.7" x2="716.5" y2="152" stroke="#d9a3dc" stroke-width="1.0"/>
<line x1="573.8" y1="135.7" x2="692.7" y2="173.4" stroke="#d9a3dc" stroke-width="1.0"/>
<line x1="573.8" y1="135.7" x2="645.9" y2="169.4" stroke="#d9a3dc" stroke-width="1.0"/>
<line x1="573.8" y1="135.7" x2="599" y2="164" stroke="#d9a3dc" stroke-width="1.0"/>
<line x1="573.8" y1="135.7" x2="541.5" y2="164" stroke="#d9a3dc" stroke-width="1.0"/>
<line x1="573.8" y1="135.7" x2="511.1" y2="177.4" stroke="#d9a3dc" stroke-width="1.0"/>
<line x1="573.8" y1="135.7" x2="548.5" y2="187.2" stroke="#d9a3dc" stroke-width="1.0"/>
<line x1="573.8" y1="135.7" x2="506.7" y2="197.2" stroke="#d9a3dc" stroke-width="1.0"/>
<line x1="573.8" y1="135.7" x2="526.1" y2="211.7" stroke="#d9a3dc" stroke-width="1.0"/>
<line x1="573.8" y1="135.7" x2="567.3" y2="210.9" stroke="#d9a3dc" stroke-width="1.0"/>
<line x1="573.8" y1="135.7" x2="594.9" y2="192.3" stroke="#d9a3dc" stroke-width="1.0"/>
<line x1="649.5" y1="205.7" x2="666.3" y2="126.4" stroke="#f5a3a0" stroke-width="1.0"/>
<line x1="649.5" y1="205.7" x2="633.6" y2="136.3" stroke="#f5a3a0" stroke-width="1.0"/>
<line x1="649.5" y1="205.7" x2="704" y2="134.1" stroke="#f5a3a0" stroke-width="1.0"/>
<line x1="649.5" y1="205.7" x2="673.25" y2="148.6" stroke="#f5a3a0" stroke-width="1.0"/>
<line x1="649.5" y1="205.7" x2="716.5" y2="152" stroke="#f5a3a0" stroke-width="1.0"/>
<line x1="649.5" y1="205.7" x2="692.7" y2="173.4" stroke="#f5a3a0" stroke-width="1.0"/>
<line x1="649.5" y1="205.7" x2="645.9" y2="169.4" stroke="#f5a3a0" stroke-width="1.0"/>
<line x1="649.5" y1="205.7" x2="599" y2="164" stroke="#f5a3a0" stroke-width="1.0"/>
<line x1="649.5" y1="205.7" x2="541.5" y2="164" stroke="#f5a3a0" stroke-width="1.0"/>
<line x1="649.5" y1="205.7" x2="511.1" y2="177.4" stroke="#f5a3a0" stroke-width="1.0"/>
<line x1="649.5" y1="205.7" x2="548.5" y2="187.2" stroke="#f5a3a0" stroke-width="1.0"/>
<line x1="649.5" y1="205.7" x2="506.7" y2="197.2" stroke="#f5a3a0" stroke-width="1.0"/>
<line x1="649.5" y1="205.7" x2="526.1" y2="211.7" stroke="#f5a3a0" stroke-width="1.0"/>
<line x1="649.5" y1="205.7" x2="567.3" y2="210.9" stroke="#f5a3a0" stroke-width="1.0"/>
<line x1="649.5" y1="205.7" x2="594.9" y2="192.3" stroke="#f5a3a0" stroke-width="1.0"/>
<line x1="649.5" y1="205.7" x2="767.6" y2="177.1" stroke="#f5a3a0" stroke-width="1.0"/>
<line x1="649.5" y1="205.7" x2="771.8" y2="212.2" stroke="#f5a3a0" stroke-width="1.0"/>
<line x1="649.5" y1="205.7" x2="749" y2="225.2" stroke="#f5a3a0" stroke-width="1.0"/>
<line x1="649.5" y1="205.7" x2="551.9" y2="249.6" stroke="#f5a3a0" stroke-width="1.0"/>
<line x1="649.5" y1="205.7" x2="611.8" y2="247.3" stroke="#f5a3a0" stroke-width="1.0"/>
<line x1="649.5" y1="205.7" x2="705" y2="271.2" stroke="#f5a3a0" stroke-width="1.0"/>
<text x="579.25" y="76.30" text-anchor="middle" dominant-baseline="central" class="nl" textLength="38.10" lengthAdjust="spacingAndGlyphs">MRPL36</text>
<text x="518.75" y="89.90" text-anchor="middle" dominant-baseline="central" class="nl" textLength="38.50" lengthAdjust="spacingAndGlyphs">MRPL30</text>
<text x="472.70" y="100.80" text-anchor="middle" dominant-baseline="central" class="nl" textLength="39.40" lengthAdjust="spacingAndGlyphs">MRPS11</text>
<text x="573.10" y="128.70" text-anchor="middle" dominant-baseline="central" class="nl" textLength="45.80" lengthAdjust="spacingAndGlyphs">Ribosome</text>
<text x="669.50" y="121.00" text-anchor="middle" dominant-baseline="central" class="nl" textLength="30.20" lengthAdjust="spacingAndGlyphs">RPL17</text>
<text x="636.85" y="136.30" text-anchor="middle" dominant-baseline="central" class="nl" textLength="70.90" lengthAdjust="spacingAndGlyphs">RPS10−NUDT3</text>
<text x="711.45" y="131.35" text-anchor="middle" dominant-baseline="central" class="nl" textLength="40.70" lengthAdjust="spacingAndGlyphs">RPL22L1</text>
<text x="673.55" y="154.60" text-anchor="middle" dominant-baseline="central" class="nl" textLength="30.30" lengthAdjust="spacingAndGlyphs">RPL38</text>
<text x="716.20" y="158.10" text-anchor="middle" dominant-baseline="central" class="nl" textLength="24.40" lengthAdjust="spacingAndGlyphs">RPL9</text>
<text x="706.00" y="170.40" text-anchor="middle" dominant-baseline="central" class="nl" textLength="75.40" lengthAdjust="spacingAndGlyphs">RPL17−C18orf32</text>
<text x="645.30" y="176.40" text-anchor="middle" dominant-baseline="central" class="nl" textLength="31.40" lengthAdjust="spacingAndGlyphs">RPS20</text>
<text x="598.90" y="168.60" text-anchor="middle" dominant-baseline="central" class="nl" textLength="37.40" lengthAdjust="spacingAndGlyphs">RPL37A</text>
<text x="596.50" y="189.10" text-anchor="middle" dominant-baseline="central" class="nl" textLength="31.00" lengthAdjust="spacingAndGlyphs">RPS24</text>
<text x="542.45" y="159.40" text-anchor="middle" dominant-baseline="central" class="nl" textLength="37.90" lengthAdjust="spacingAndGlyphs">RPS27L</text>
<text x="509.30" y="184.40" text-anchor="middle" dominant-baseline="central" class="nl" textLength="32.00" lengthAdjust="spacingAndGlyphs">RPS25</text>
<text x="551.10" y="183.10" text-anchor="middle" dominant-baseline="central" class="nl" textLength="31.00" lengthAdjust="spacingAndGlyphs">RPS21</text>
<text x="507.00" y="204.60" text-anchor="middle" dominant-baseline="central" class="nl" textLength="25.20" lengthAdjust="spacingAndGlyphs">RPL7</text>
<text x="526.50" y="218.50" text-anchor="middle" dominant-baseline="central" class="nl" textLength="25.00" lengthAdjust="spacingAndGlyphs">RPL6</text>
<text x="568.00" y="216.20" text-anchor="middle" dominant-baseline="central" class="nl" textLength="37.40" lengthAdjust="spacingAndGlyphs">RPL35A</text>
<text x="552.50" y="256.60" text-anchor="middle" dominant-baseline="central" class="nl" textLength="32.20" lengthAdjust="spacingAndGlyphs">CXCL8</text>
<text x="609.60" y="254.40" text-anchor="middle" dominant-baseline="central" class="nl" textLength="21.20" lengthAdjust="spacingAndGlyphs">MX2</text>
<text x="655.35" y="213.50" text-anchor="middle" dominant-baseline="central" class="nl" textLength="99.30" lengthAdjust="spacingAndGlyphs">Coronavirus disease −</text>
<text x="646.10" y="223.50" text-anchor="middle" dominant-baseline="central" class="nl" textLength="48.80" lengthAdjust="spacingAndGlyphs">COVID−19</text>
<text x="766.65" y="183.70" text-anchor="middle" dominant-baseline="central" class="nl" textLength="20.90" lengthAdjust="spacingAndGlyphs">IRF3</text>
<text x="772.05" y="208.00" text-anchor="middle" dominant-baseline="central" class="nl" textLength="23.10" lengthAdjust="spacingAndGlyphs">JAK1</text>
<text x="750.20" y="220.60" text-anchor="middle" dominant-baseline="central" class="nl" textLength="23.80" lengthAdjust="spacingAndGlyphs">TAB2</text>
<text x="705.00" y="278.50" text-anchor="middle" dominant-baseline="central" class="nl" textLength="34.80" lengthAdjust="spacingAndGlyphs">PRKCB</text>
<text x="836.80" y="254.90" text-anchor="middle" dominant-baseline="central" class="nl" textLength="67.80" lengthAdjust="spacingAndGlyphs">Leishmaniasis</text>
<text x="929.85" y="228.00" text-anchor="middle" dominant-baseline="central" class="nl" textLength="29.30" lengthAdjust="spacingAndGlyphs">ITGB2</text>
<text x="946.70" y="253.00" text-anchor="middle" dominant-baseline="central" class="nl" textLength="31.40" lengthAdjust="spacingAndGlyphs">ITGAM</text>
<text x="944.15" y="285.10" text-anchor="middle" dominant-baseline="central" class="nl" textLength="51.70" lengthAdjust="spacingAndGlyphs">HLA−DQB1</text>
<text x="782.85" y="306.80" text-anchor="middle" dominant-baseline="central" class="nl" textLength="31.70" lengthAdjust="spacingAndGlyphs">TGFB1</text>
<text x="816.20" y="313.10" text-anchor="middle" dominant-baseline="central" class="nl" textLength="25.40" lengthAdjust="spacingAndGlyphs">NCF2</text>
<text x="845.00" y="319.60" text-anchor="middle" dominant-baseline="central" class="nl" textLength="25.40" lengthAdjust="spacingAndGlyphs">NCF4</text>
<text x="712.30" y="335.10" text-anchor="middle" dominant-baseline="central" class="nl" textLength="112.20" lengthAdjust="spacingAndGlyphs">Diabetic cardiomyopathy</text>
<text x="625.70" y="339.90" text-anchor="middle" dominant-baseline="central" class="nl" textLength="24.80" lengthAdjust="spacingAndGlyphs">PTPA</text>
<text x="585.85" y="351.30" text-anchor="middle" dominant-baseline="central" class="nl" textLength="39.30" lengthAdjust="spacingAndGlyphs">PPP1CA</text>
<text x="572.15" y="371.10" text-anchor="middle" dominant-baseline="central" class="nl" textLength="27.10" lengthAdjust="spacingAndGlyphs">MPC1</text>
<text x="628.30" y="383.30" text-anchor="middle" dominant-baseline="central" class="nl" textLength="39.20" lengthAdjust="spacingAndGlyphs">NDUFB1</text>
<text x="671.45" y="376.90" text-anchor="middle" dominant-baseline="central" class="nl" textLength="39.70" lengthAdjust="spacingAndGlyphs">NDUFS8</text>
<text x="624.00" y="400.30" text-anchor="middle" dominant-baseline="central" class="nl" textLength="40.00" lengthAdjust="spacingAndGlyphs">NDUFB3</text>
<text x="658.00" y="417.90" text-anchor="middle" dominant-baseline="central" class="nl" textLength="40.20" lengthAdjust="spacingAndGlyphs">NDUFB7</text>
<text x="701.55" y="405.40" text-anchor="middle" dominant-baseline="central" class="nl" textLength="39.70" lengthAdjust="spacingAndGlyphs">NDUFS6</text>
<text x="732.85" y="387.70" text-anchor="middle" dominant-baseline="central" class="nl" textLength="45.30" lengthAdjust="spacingAndGlyphs">COX7A2L</text>
<text x="781.85" y="369.40" text-anchor="middle" dominant-baseline="central" class="nl" textLength="36.70" lengthAdjust="spacingAndGlyphs">UQCRH</text>
<text x="825.00" y="376.50" text-anchor="middle" dominant-baseline="central" class="nl" textLength="40.80" lengthAdjust="spacingAndGlyphs">NDUFV3</text>
<text x="803.60" y="393.20" text-anchor="middle" dominant-baseline="central" class="nl" textLength="37.20" lengthAdjust="spacingAndGlyphs">UQCRQ</text>
<text x="765.05" y="407.20" text-anchor="middle" dominant-baseline="central" class="nl" textLength="36.90" lengthAdjust="spacingAndGlyphs">ATP5PF</text>
<text x="726.95" y="430.10" text-anchor="middle" dominant-baseline="central" class="nl" textLength="119.10" lengthAdjust="spacingAndGlyphs">Oxidative phosphorylation</text>
<text x="691.80" y="488.40" text-anchor="middle" dominant-baseline="central" class="nl" textLength="41.00" lengthAdjust="spacingAndGlyphs">ATP5MG</text>
<text x="783.30" y="484.60" text-anchor="middle" dominant-baseline="central" class="nl" textLength="39.60" lengthAdjust="spacingAndGlyphs">ATP5MF</text>
<circle cx="578.6" cy="69.8" r="1.95" fill="#b6b4e0"/>
<circle cx="518.1" cy="82.4" r="1.95" fill="#b6b4e0"/>
<circle cx="469" cy="104.8" r="1.95" fill="#b6b4e0"/>
<circle cx="666.3" cy="126.4" r="1.95" fill="#e9a3b6"/>
<circle cx="633.6" cy="136.3" r="1.95" fill="#c8a9d3"/>
<circle cx="704" cy="134.1" r="1.95" fill="#e9a3b6"/>
<circle cx="673.25" cy="148.6" r="1.95" fill="#b6b4e0"/>
<circle cx="716.5" cy="152" r="1.95" fill="#adb9e3"/>
<circle cx="692.7" cy="173.4" r="1.95" fill="#d8a8cc"/>
<circle cx="645.9" cy="169.4" r="1.95" fill="#adb9e3"/>
<circle cx="599" cy="164" r="1.95" fill="#c8a9d3"/>
<circle cx="541.5" cy="164" r="1.95" fill="#e9a3b6"/>
<circle cx="511.1" cy="177.4" r="1.95" fill="#e9a3b6"/>
<circle cx="548.5" cy="187.2" r="1.95" fill="#c8a9d3"/>
<circle cx="506.7" cy="197.2" r="1.95" fill="#e9a3b6"/>
<circle cx="526.1" cy="211.7" r="1.95" fill="#e9a3b6"/>
<circle cx="567.3" cy="210.9" r="1.95" fill="#c8a9d3"/>
<circle cx="594.9" cy="192.3" r="1.95" fill="#c8a9d3"/>
<circle cx="551.9" cy="249.6" r="1.95" fill="#e9a3b6"/>
<circle cx="611.8" cy="247.3" r="1.95" fill="#e9a3b6"/>
<circle cx="767.6" cy="177.1" r="1.95" fill="#e9a3b6"/>
<circle cx="771.8" cy="212.2" r="1.95" fill="#b6b4e0"/>
<circle cx="749" cy="225.2" r="1.95" fill="#e9a3b6"/>
<circle cx="705" cy="271.2" r="1.95" fill="#e9a3b6"/>
<circle cx="931.9" cy="221.9" r="1.95" fill="#b6b4e0"/>
<circle cx="948.1" cy="246.9" r="1.95" fill="#adb9e3"/>
<circle cx="950.5" cy="273.8" r="1.95" fill="#e9a3b6"/>
<circle cx="785.2" cy="312.1" r="1.95" fill="#e9a3b6"/>
<circle cx="814" cy="318.5" r="1.95" fill="#c8a9d3"/>
<circle cx="837.8" cy="325.4" r="1.95" fill="#c8a9d3"/>
<circle cx="627.6" cy="334" r="1.95" fill="#e9a3b6"/>
<circle cx="587.6" cy="345.2" r="1.95" fill="#c8a9d3"/>
<circle cx="573.3" cy="363.8" r="1.95" fill="#adb9e3"/>
<circle cx="627" cy="388.4" r="1.95" fill="#e9a3b6"/>
<circle cx="669.7" cy="382.2" r="1.95" fill="#b6b4e0"/>
<circle cx="622.2" cy="406" r="1.95" fill="#b6b4e0"/>
<circle cx="659.8" cy="409.7" r="1.95" fill="#e9a3b6"/>
<circle cx="702.7" cy="399.4" r="1.95" fill="#b6b4e0"/>
<circle cx="735.3" cy="381.5" r="1.95" fill="#e9a3b6"/>
<circle cx="781.4" cy="374.7" r="1.95" fill="#e9a3b6"/>
<circle cx="818" cy="380.7" r="1.95" fill="#e9a3b6"/>
<circle cx="803.1" cy="397.6" r="1.95" fill="#e9a3b6"/>
<circle cx="765" cy="401.2" r="1.95" fill="#e9a3b6"/>
<circle cx="687.6" cy="495.3" r="1.95" fill="#c8a9d3"/>
<circle cx="783.5" cy="489.3" r="1.95" fill="#e9a3b6"/>
<circle cx="573.8" cy="135.7" r="4.3" fill="#959595"/>
<circle cx="649.5" cy="205.7" r="4.3" fill="#959595"/>
<circle cx="835.6" cy="261.4" r="4.3" fill="#959595"/>
<circle cx="707.8" cy="343.3" r="4.3" fill="#959595"/>
<circle cx="727.2" cy="437.2" r="4.3" fill="#959595"/>
<text x="979.7" y="118.5" dominant-baseline="central" class="lt">Category</text>
<line x1="979.7" y1="138.30" x2="996.4" y2="138.30" stroke="#f8a09c" stroke-width="1.4"/>
<text x="1004.7" y="138.90" dominant-baseline="central" class="ll">Coronavirus disease – COVID–19</text>
<line x1="979.7" y1="158.60" x2="996.4" y2="158.60" stroke="#c9c04a" stroke-width="1.4"/>
<text x="1004.7" y="159.20" dominant-baseline="central" class="ll">Diabetic cardiomyopathy</text>
<line x1="979.7" y1="178.90" x2="996.4" y2="178.90" stroke="#6cc69a" stroke-width="1.4"/>
<text x="1004.7" y="179.50" dominant-baseline="central" class="ll">Leishmaniasis</text>
<line x1="979.7" y1="199.20" x2="996.4" y2="199.20" stroke="#62c0f0" stroke-width="1.4"/>
<text x="1004.7" y="199.80" dominant-baseline="central" class="ll">Oxidative phosphorylation</text>
<line x1="979.7" y1="219.50" x2="996.4" y2="219.50" stroke="#fbf4fb" stroke-width="1.4"/>
<text x="1004.7" y="220.10" dominant-baseline="central" class="ll">Ribosome</text>
<text x="984.5" y="254.9" dominant-baseline="central" class="lt">Size</text>
<circle cx="992.3" cy="272.1" r="5.15" fill="#111"/>
<text x="1004.4" y="272.1" dominant-baseline="central" class="ll">5</text>
<circle cx="992.3" cy="287.2" r="6.25" fill="#111"/>
<text x="1004.4" y="287.2" dominant-baseline="central" class="ll">10</text>
<circle cx="992.3" cy="303.5" r="7.15" fill="#111"/>
<text x="1004.4" y="303.5" dominant-baseline="central" class="ll">15</text>
<circle cx="992.3" cy="321.3" r="8.15" fill="#111"/>
<text x="1004.4" y="321.3" dominant-baseline="central" class="ll">20</text>
<text x="985.9" y="354.2" dominant-baseline="central" class="lt">Color</text>
<defs><linearGradient id="cg" x1="0" y1="0" x2="0" y2="1"><stop offset="0" stop-color="#eca8b6"/><stop offset="0.5" stop-color="#c9aed0"/><stop offset="1" stop-color="#a8c2e8"/></linearGradient></defs>
<rect x="988.1" y="365.1" width="14.8" height="74.1" fill="url(#cg)"/>
<line x1="988.1" y1="377.5" x2="991" y2="377.5" stroke="#fff" stroke-width="0.6"/>
<line x1="1000" y1="377.5" x2="1002.9" y2="377.5" stroke="#fff" stroke-width="0.6"/>
<text x="1007.7" y="377.5" dominant-baseline="central" class="ll">0.2</text>
<line x1="988.1" y1="393.4" x2="991" y2="393.4" stroke="#fff" stroke-width="0.6"/>
<line x1="1000" y1="393.4" x2="1002.9" y2="393.4" stroke="#fff" stroke-width="0.6"/>
<text x="1007.7" y="393.4" dominant-baseline="central" class="ll">0.0</text>
<line x1="988.1" y1="409.8" x2="991" y2="409.8" stroke="#fff" stroke-width="0.6"/>
<line x1="1000" y1="409.8" x2="1002.9" y2="409.8" stroke="#fff" stroke-width="0.6"/>
<text x="1007.7" y="409.8" dominant-baseline="central" class="ll">-0.2</text>
<line x1="988.1" y1="426.1" x2="991" y2="426.1" stroke="#fff" stroke-width="0.6"/>
<line x1="1000" y1="426.1" x2="1002.9" y2="426.1" stroke="#fff" stroke-width="0.6"/>
<text x="1007.7" y="426.1" dominant-baseline="central" class="ll">-0.4</text>
</svg>
</body></html>
